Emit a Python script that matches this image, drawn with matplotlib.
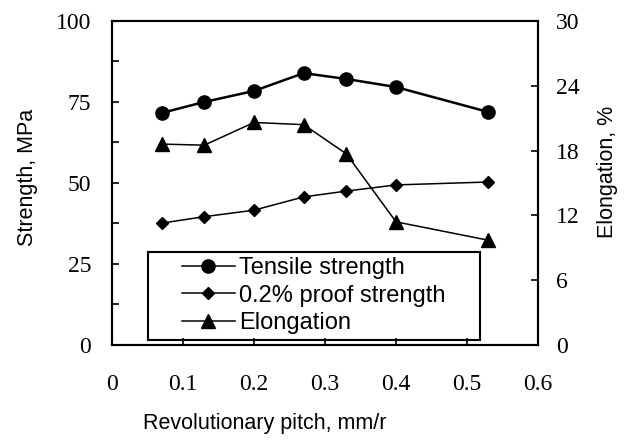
import numpy as np
import matplotlib.pyplot as plt
from matplotlib.patches import Rectangle

# data
pitch = [0.07, 0.13, 0.20, 0.27, 0.33, 0.40, 0.53]
tensile = [71.6, 75.0, 78.4, 83.9, 82.1, 79.6, 71.9]
proof = [37.6, 39.6, 41.6, 45.7, 47.5, 49.4, 50.3]
elong = [18.6, 18.5, 20.6, 20.4, 17.7, 11.4, 9.7]

x_ticks = [0, 0.1, 0.2, 0.3, 0.4, 0.5, 0.6]
x_labels = ["0", "0.1", "0.2", "0.3", "0.4", "0.5", "0.6"]
left_ticks = [0, 25, 50, 75, 100]
right_ticks = [0, 6, 12, 18, 24, 30]

serif = "Liberation Serif"
sans = "Liberation Sans"

fig = plt.figure(figsize=(6.36, 4.46), dpi=100)
ax = fig.add_axes([0.176, 0.2265, 0.67, 0.7265])
ax2 = ax.twinx()

l1, = ax.plot(pitch, tensile, color="black", lw=1.8, marker="o", ms=9.5,
              label="Tensile strength")
l2, = ax.plot(pitch, proof, color="black", lw=1.1, marker="D", ms=6.5,
              label="0.2% proof strength")
l3, = ax2.plot(pitch, elong, color="black", lw=1.1, marker="^", ms=10,
               label="Elongation")

ax.set_xlim(0, 0.6)
ax.set_ylim(0, 100)
ax2.set_ylim(0, 30)

ax.set_xticks(x_ticks)
ax.set_xticklabels(x_labels, fontfamily=serif, fontsize=17)
ax.set_yticks(left_ticks)
ax.set_yticklabels([str(v) for v in left_ticks], fontfamily=serif, fontsize=17)
ax.set_yticks(np.arange(12.5, 100, 25), minor=True)
ax2.set_yticks(right_ticks)
ax2.set_yticklabels([str(v) for v in right_ticks], fontfamily=serif, fontsize=17)

ax.tick_params(axis="x", direction="in", length=5, width=1.2, pad=21, top=False)
ax.tick_params(axis="y", which="both", direction="in", length=5, width=1.2, pad=15)
ax2.tick_params(axis="y", direction="in", length=5, width=1.2, pad=13)
# only 0.1 .. 0.5 carry a tick mark on the x axis
for t in ax.xaxis.get_major_ticks():
    if t.get_loc() in (0, 0.6):
        t.tick1line.set_visible(False)

for a in (ax, ax2):
    for s in a.spines.values():
        s.set_linewidth(1.5)

fig.text(265 / 636, 1 - 424 / 446, "Revolutionary pitch, mm/r", fontfamily=sans,
         fontsize=15.5, ha="center", va="center")
fig.text(27 / 636, 1 - 177 / 446, "Strength, MPa", fontfamily=sans,
         fontsize=15.5, ha="center", va="center", rotation=90)
fig.text(608 / 636, 1 - 172 / 446, "Elongation, %", fontfamily=sans,
         fontsize=15.5, ha="center", va="center", rotation=90)

leg = ax2.legend(handles=[l1, l2, l3], loc="upper left",
                 bbox_to_anchor=(0.164, 0.27), borderaxespad=0, borderpad=0,
                 frameon=False, handlelength=2.25, handletextpad=0.17,
                 labelspacing=0.22, prop={"family": sans, "size": 17})
for h in leg.legend_handles:
    h.set_linewidth(1.1)
ax2.add_patch(Rectangle((0.085, 0.015), 0.779, 0.272, transform=ax2.transAxes,
                        fill=False, ec="black", lw=1.5, zorder=5))

fig.savefig("out.png", dpi=100)
